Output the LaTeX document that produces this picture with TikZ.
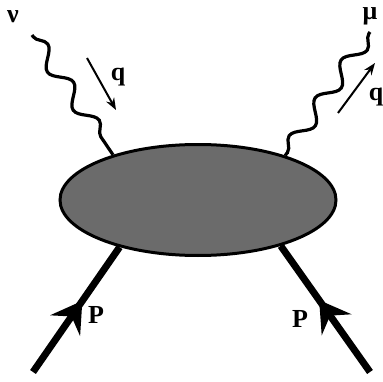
\documentclass[tikz,border=0pt]{standalone}
\usepackage{fontspec}
\setmainfont{Liberation Serif}
\usetikzlibrary{shapes.geometric,decorations.pathmorphing,decorations.markings,arrows.meta,backgrounds}

\tikzset{
  blob/.style={ellipse, draw, line width=3pt, fill=black!58, minimum width=276pt, minimum height=111pt},
  photon/.style={decorate, line width=3.2pt,
    decoration={snake, amplitude=8pt, segment length=46pt, pre length=2pt, post length=2pt}},
  fermion/.style={line width=7pt, postaction={decorate},
    decoration={markings, mark=at position 0.57 with {\arrow{Stealth[length=30pt,width=36pt,inset=11pt]}}}},
  momentum/.style={-{Stealth[length=12pt,width=9pt]}, line width=2pt},
  lbl/.style={font=\bfseries\fontsize{26}{26}\selectfont, inner sep=0pt}
}

\begin{document}
\begin{tikzpicture}[x=1pt,y=1pt]
    \useasboundingbox (0,0) rectangle (383,381);

    % Hadronic blob
    \node[blob] (vertex) at (198,181) {};

    % Lepton lines
    \coordinate (nuin) at (32,346);
    \coordinate (muout) at (370,349);
    \draw[photon] (nuin) -- (vertex.152);
    \draw[photon] (muout) -- (vertex.27);
    \node[lbl] (nu) at (13,364) {ν};
    \node[lbl] (mu) at (370,365) {μ};

    % Momentum transfer
    \coordinate (qina) at (87,323);
    \coordinate (qinb) at (116,271);
    \coordinate (qouta) at (338,268);
    \coordinate (qoutb) at (375,318);
    \draw[momentum] (qina) -- (qinb);
    \draw[momentum] (qouta) -- (qoutb);
    \node[lbl] (qin) at (118,304) {q};
    \node[lbl] (qout) at (376,284) {q};

    % Nucleon lines
    \coordinate (pin) at (33,9);
    \coordinate (pout) at (370,9);
    \begin{scope}[on background layer]
        \draw[fermion] (pin) -- (vertex.211);
        \draw[fermion] (pout) -- (vertex.331);
    \end{scope}
    \node[lbl] (pleft) at (96,66) {P};
    \node[lbl] (pright) at (300,62) {P};
\end{tikzpicture}
\end{document}
